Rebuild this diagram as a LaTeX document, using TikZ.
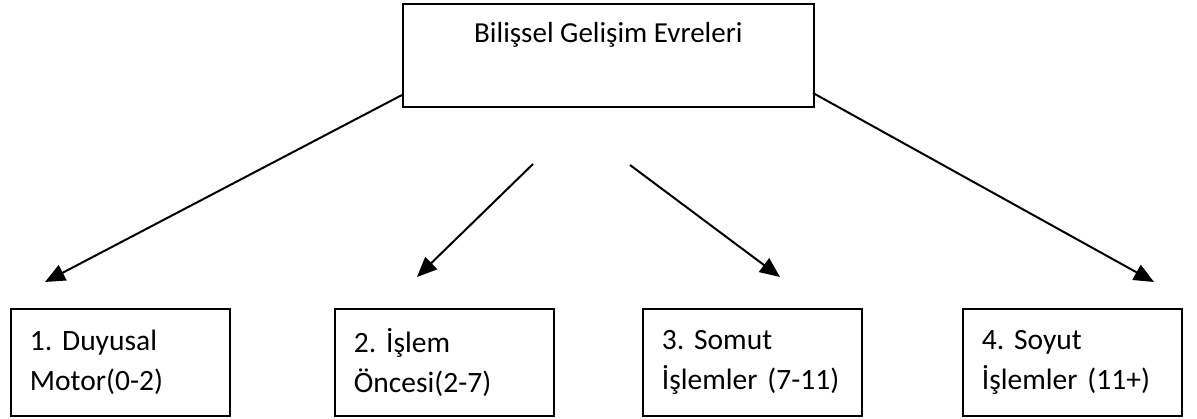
\documentclass[tikz,border=0pt]{standalone}
\usepackage{fontspec}
\setmainfont{Carlito}
\usetikzlibrary{arrows.meta}
\frenchspacing
\begin{document}
\begin{tikzpicture}[x=1pt,y=-1pt,
  box/.style={draw, line width=1.8pt, rectangle, anchor=north west},
  stagebox/.style={box, minimum width=219pt, minimum height=107pt, inner xsep=19pt, inner ysep=0pt,
    text width=181pt, align=left, font=\fontsize{29.5}{40}\selectfont},
  arr/.style={line width=2pt, -{Triangle[length=20pt,width=17pt]}}]
\useasboundingbox (0,0) rectangle (1197,419);
\node[box, minimum width=411pt, minimum height=103pt, inner sep=0pt] (top) at (402,3)
  {\parbox[c][103pt][t]{411pt}{\centering\fontsize{29}{34}\selectfont\vspace{18pt}Bilişsel Gelişim Evreleri}};
\node[stagebox] (s1) at (10,308) {1. Duyusal\\Motor(0-2)};
\node[stagebox] (s2) at (334,308) {2. İşlem\\Öncesi(2-7)};
\node[stagebox] (s3) at (642,308) {3. Somut\\İşlemler (7-11)};
\node[stagebox] (s4) at (962,308) {4. Soyut\\İşlemler (11+)};
\coordinate (a1s) at (402,95);
\coordinate (a1e) at (45,282);
\coordinate (a2s) at (533,164);
\coordinate (a2e) at (417,277);
\coordinate (a3s) at (630,165);
\coordinate (a3e) at (780,277);
\coordinate (a4s) at (813,93);
\coordinate (a4e) at (1154,282);
\draw[arr] (a1s) -- (a1e);
\draw[arr] (a2s) -- (a2e);
\draw[arr] (a3s) -- (a3e);
\draw[arr] (a4s) -- (a4e);
\end{tikzpicture}
\end{document}
